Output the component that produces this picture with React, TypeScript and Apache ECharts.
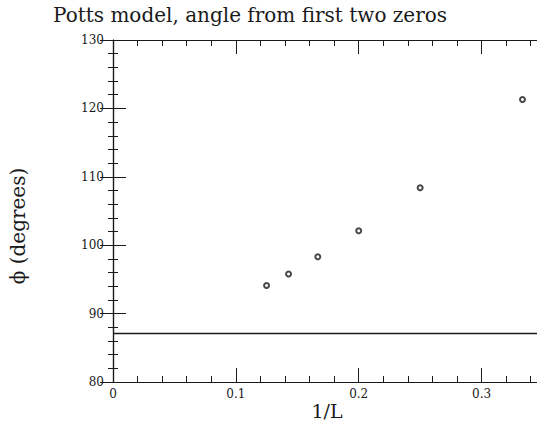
import React, { useEffect, useRef } from "react";
import * as echarts from "echarts";

const invL = [0.125, 0.1429, 0.1667, 0.2, 0.25, 0.3333];
const phi = [94.1, 95.8, 98.3, 102.1, 108.4, 121.3];
const limitLine = 87.1;
const xTicks = [0, 0.1, 0.2, 0.3];
const yTicks = [80, 90, 100, 110, 120, 130];

const FONT = "DejaVu Serif";
const INK = "#1a1a1a";

export default function App() {
  const ref = useRef<HTMLDivElement>(null);
  useEffect(() => {
    if (!ref.current) return;
    const chart = echarts.init(ref.current, undefined, { renderer: "svg" });
    const mk = (major: number, minor: number) => ({
      axisLine: { show: true, lineStyle: { color: INK, width: 1.2 } },
      splitLine: { show: false },
      minorSplitLine: { show: false },
      axisTick: { show: true, inside: true, length: major, lineStyle: { color: INK, width: 1 } },
      minorTick: { show: true, splitNumber: 5, length: minor, lineStyle: { color: INK, width: 1 } },
    });
    const xBase = { type: "value", min: 0, max: 0.35, interval: 0.1 };
    const yBase = { type: "value", min: 80, max: 130, interval: 10 };
    chart.setOption({
      animation: false,
      backgroundColor: "#ffffff",
      grid: {
        left: 113,
        top: 40,
        width: 430,
        height: 342,
        containLabel: false,
        outerBoundsMode: "none",
      },
      xAxis: [
        {
          ...xBase,
          ...mk(14, 6),
          position: "bottom",
          axisLabel: {
            show: true,
            fontFamily: FONT,
            fontSize: 12,
            color: INK,
            margin: 6,
            formatter: (v: number) =>
              xTicks.some((t) => Math.abs(t - v) < 1e-9) ? String(Number(v.toFixed(2))) : "",
          },
        },
        { ...xBase, ...mk(14, 6), position: "top", axisLabel: { show: false } },
      ],
      yAxis: [
        {
          ...yBase,
          ...mk(13, 5),
          position: "left",
          axisLabel: {
            show: true,
            fontFamily: FONT,
            fontSize: 12,
            color: INK,
            margin: 9,
            formatter: (v: number) => (yTicks.includes(v) ? String(v) : ""),
          },
        },
        { ...yBase, ...mk(13, 5), position: "right", axisLabel: { show: false } },
      ],
      series: [
        {
          type: "scatter",
          xAxisIndex: 0,
          yAxisIndex: 0,
          data: invL.map((x, i) => [x, phi[i]]),
          symbol: "emptyCircle",
          symbolSize: 5,
          itemStyle: { color: INK, borderWidth: 1.3 },
          markLine: {
            silent: true,
            symbol: "none",
            label: { show: false },
            lineStyle: { color: INK, width: 1.3, type: "solid" },
            data: [{ yAxis: limitLine }],
          },
        },
      ],
      graphic: [
        {
          type: "text",
          x: 250,
          y: 15,
          style: {
            text: "Potts model, angle from first two zeros",
            fontFamily: FONT,
            fontSize: 20,
            fill: INK,
            textAlign: "center",
            textVerticalAlign: "middle",
          },
        },
        {
          type: "text",
          x: 327,
          y: 411,
          style: {
            text: "1/L",
            fontFamily: FONT,
            fontSize: 19,
            fill: INK,
            textAlign: "center",
            textVerticalAlign: "middle",
          },
        },
        {
          type: "text",
          x: 18,
          y: 226,
          rotation: Math.PI / 2,
          style: {
            text: "ϕ (degrees)",
            fontFamily: FONT,
            fontSize: 20,
            fill: INK,
            textAlign: "center",
            textVerticalAlign: "middle",
          },
        },
      ],
    });
    return () => chart.dispose();
  }, []);
  return (
    <div
      ref={ref}
      style={{ position: "fixed", left: 0, top: 0, width: 537, height: 428, background: "#fff" }}
    />
  );
}
